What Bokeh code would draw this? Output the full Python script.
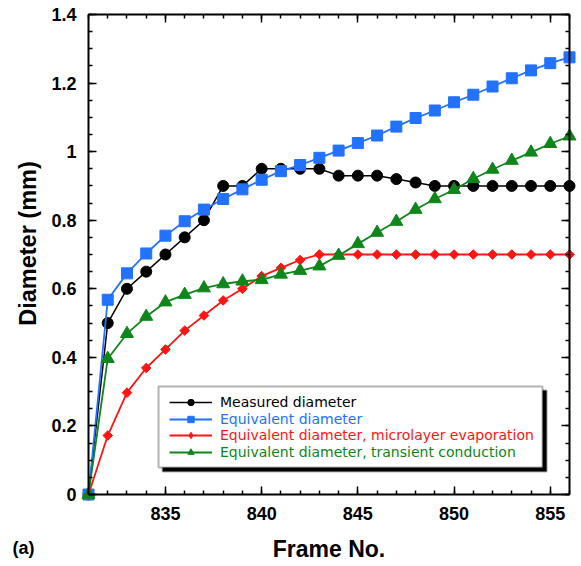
import numpy as np
from bokeh.plotting import figure
from bokeh.models import (FixedTicker, LinearAxis, NumeralTickFormatter, Legend,
                          LegendItem, BoxAnnotation, Label, Range1d)
from bokeh.embed import file_html
from bokeh.resources import INLINE

# ---- data ----
frames = list(range(831, 857))
measured = [0, 0.50, 0.60, 0.65, 0.70, 0.75, 0.80, 0.90, 0.90, 0.95, 0.95, 0.95, 0.95,
            0.93, 0.93, 0.93, 0.92, 0.91, 0.90, 0.90, 0.90, 0.90, 0.90, 0.90, 0.90, 0.90]
equivalent = [0, 0.568, 0.645, 0.703, 0.755, 0.797, 0.831, 0.862, 0.890, 0.918, 0.943,
              0.961, 0.982, 1.003, 1.025, 1.047, 1.073, 1.098, 1.120, 1.144, 1.166,
              1.190, 1.214, 1.237, 1.258, 1.275]
microlayer = [0, 0.172, 0.297, 0.369, 0.423, 0.478, 0.522, 0.566, 0.600, 0.637, 0.661,
              0.684, 0.700, 0.700, 0.700, 0.700, 0.700, 0.700, 0.700, 0.700, 0.700,
              0.700, 0.700, 0.700, 0.700, 0.700]
transient = [0, 0.396, 0.469, 0.519, 0.561, 0.583, 0.602, 0.614, 0.622, 0.626, 0.642,
             0.653, 0.666, 0.697, 0.731, 0.764, 0.796, 0.831, 0.862, 0.889, 0.921,
             0.948, 0.974, 0.998, 1.023, 1.045]
labels = ["Measured diameter", "Equivalent diameter",
          "Equivalent diameter, microlayer evaporation",
          "Equivalent diameter, transient conduction"]
x_title = "Frame No."
y_title = "Diameter (mm)"
panel_tag = "(a)"
x_ticks = [835, 840, 845, 850, 855]
y_ticks = [0, 0.2, 0.4, 0.6, 0.8, 1.0, 1.2, 1.4]
x_lo, x_hi = 831, 856
y_lo, y_hi = 0, 1.4

FONT = "Liberation Sans"
BLACK = "#000000"
BLUE = "#2272FF"
RED = "#FF1414"
GREEN = "#0E861A"

# layout (pixels): plotting box inside a 581 x 566 canvas
W, H = 581, 566
L, R, T, B = 88, 12, 14, 72
kx = (W - L - R) / (x_hi - x_lo)
ky = (H - T - B) / (y_hi - y_lo)

p = figure(width=W, height=H, output_backend="svg", toolbar_location=None,
           x_range=Range1d(x_lo - L / kx, x_hi + R / kx),
           y_range=Range1d(y_lo - B / ky, y_hi + T / ky),
           min_border=0, x_axis_location=None, y_axis_location=None)
p.grid.visible = False
p.outline_line_color = None
p.background_fill_color = "white"
p.border_fill_color = "white"

xt = FixedTicker(ticks=x_ticks, minor_ticks=frames)
yt = FixedTicker(ticks=y_ticks, minor_ticks=[float(v) for v in np.round(np.arange(0, 1.4001, 0.05), 2)])


def make_axis(ticker, loc, bounds, show_labels=True):
    ax = LinearAxis(ticker=ticker, fixed_location=loc, bounds=bounds)
    ax.axis_line_width = 2
    ax.axis_line_color = BLACK
    ax.major_tick_in = 8
    ax.major_tick_out = 0
    ax.minor_tick_in = 4
    ax.minor_tick_out = 0
    ax.major_tick_line_width = 1.5
    ax.minor_tick_line_width = 1.5
    ax.major_tick_line_color = BLACK
    ax.minor_tick_line_color = BLACK
    ax.major_label_text_font = FONT
    ax.major_label_text_font_style = "bold"
    if show_labels:
        ax.major_label_text_color = BLACK
        ax.major_label_text_font_size = "18px"
        ax.major_label_standoff = 12
    else:
        ax.major_label_text_color = None
        ax.major_label_text_font_size = "1px"
        ax.major_label_standoff = 0
    return ax


xaxis = make_axis(xt, y_lo, (x_lo, x_hi))
yaxis = make_axis(yt, x_lo, (y_lo, y_hi))
yaxis.formatter = NumeralTickFormatter(format="0.[0]")
xaxis.axis_label = x_title
xaxis.axis_label_text_font = FONT
xaxis.axis_label_text_font_style = "bold"
xaxis.axis_label_text_font_size = "23px"
xaxis.axis_label_text_color = BLACK
xaxis.axis_label_standoff = 13
top_ax = make_axis(xt, y_hi, (x_lo, x_hi), False)
right_ax = make_axis(yt, x_hi, (y_lo, y_hi), False)
p.add_layout(xaxis, "below")
p.add_layout(yaxis, "left")
p.add_layout(top_ax, "above")
p.add_layout(right_ax, "right")

# y axis title (placed as in the original, slightly above the plot's middle)
p.add_layout(Label(x=27, y=H - 243, x_units="screen", y_units="screen", text=y_title,
                   angle=np.pi / 2, text_align="center", text_baseline="middle",
                   text_font=FONT, text_font_style="bold", text_font_size="23.5px",
                   text_color=BLACK))

# legend frame with shadow (data coordinates)
shadow = BoxAnnotation(left=834.85, right=854.81, bottom=0.067, top=0.303,
                       fill_color=BLACK, fill_alpha=1, line_color=BLACK, line_width=2)
box = BoxAnnotation(left=834.64, right=854.6, bottom=0.0787, top=0.315,
                    fill_color="white", fill_alpha=1, line_color=BLACK, line_width=2)
p.add_layout(shadow)
p.add_layout(box)

series = [
    (measured, BLACK, "circle", 11, 0.0, 1.5, "circle", 11),
    (equivalent, BLUE, "square", 11, 0.0, 1.8, "square", 11),
    (microlayer, RED, "square", 6.8, np.pi / 4, 1.8, "diamond", 12),
    (transient, GREEN, "triangle", 13, 0.0, 1.8, "triangle", 13),
]
row_centers = [H - 401.5, H - 418, H - 434.5, H - 451]  # from canvas bottom
for (vals, col, mk, sz, ang, lw, lmk, lsz), lab, yc in zip(series, labels, row_centers):
    ln = p.line(frames, vals, line_color=col, line_width=lw)
    sc = p.scatter(frames, vals, marker=mk, size=sz, angle=ang, fill_color=col,
                   line_color=col, line_width=1)
    if lmk != mk:
        # key-only marker: one point with no position, so only the legend shows it
        sc = p.scatter([float("nan")], [float("nan")], marker=lmk, size=lsz,
                       fill_color=col, line_color=col, line_width=1)
    leg = Legend(items=[LegendItem(label=lab, renderers=[ln, sc])],
                 location=(169, yc - 8.5), padding=0, margin=0, spacing=0,
                 border_line_color=None, background_fill_alpha=0,
                 glyph_width=43, glyph_height=16, label_height=16, label_standoff=8,
                 label_text_font="DejaVu Sans", label_text_font_size="14px",
                 label_text_color=col)
    p.add_layout(leg)

p.add_layout(Label(x=12, y=H - 547, x_units="screen", y_units="screen", text=panel_tag,
                   text_font=FONT, text_font_style="bold", text_font_size="18px",
                   text_baseline="middle", text_color=BLACK))

open("out.html", "w").write(file_html(p, INLINE))
